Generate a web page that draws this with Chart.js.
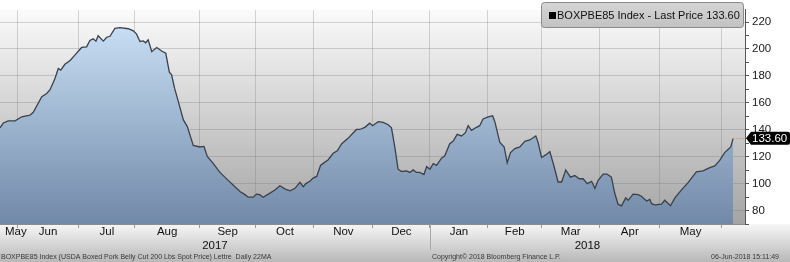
<!DOCTYPE html>
<html>
<head>
<meta charset="utf-8">
<script src="https://cdn.jsdelivr.net/npm/chart.js@4.4.1/dist/chart.umd.min.js"></script>
<style>
  html, body { margin: 0; padding: 0; background: #fff; }
  #wrap { width: 790px; height: 262px; }
</style>
</head>
<body>
<div id="wrap"><canvas id="chart" width="790" height="262"></canvas></div>
<script>
// x = trading-session index from the left edge of the window, y = price
const sessions = [
  0, 1.2, 3, 5.5, 7.9, 10.9, 12.1, 15.2, 17, 18.2, 20, 21.2, 22.1, 23.6, 25.5, 27.3,
  29.7, 31.5, 32.7, 33.9, 34.9, 35.7, 37.6, 38.8, 40, 41.8, 43.6, 46.7, 48.5, 49.7,
  50.9, 52.1, 53, 53.9, 55.2, 57, 58.8, 60.3, 61.6, 62.4, 63.5, 64.8, 66.7, 68.1,
  70.3, 72.7, 74.2, 75.4, 77.6, 80, 83, 84.8, 87.3, 89.1, 90.3, 92.1, 93.3, 94.5,
  95.7, 97.6, 100, 101.8, 103.6, 105.5, 107.3, 109.1, 110.3, 111.3, 112.7, 113.9,
  115.2, 116.6, 117.8, 119.4, 121.2, 122.7, 124.3, 126.7, 128.5, 129.7, 130.9, 132.7,
  134.5, 135.5, 137.6, 139.4, 141.2, 142.4, 143.6, 144.8, 146.1, 147.9, 149.1, 150.3,
  151.5, 152.7, 154.2, 155.2, 156.4, 157.6, 158.8, 160.6, 161.8, 163.6, 164.8, 166.3,
  167.9, 169.3, 170.3, 171.5, 173.3, 174.5, 175.7, 177.6, 179.2, 180, 181.8, 183.4,
  184.5, 185.7, 187.3, 189.1, 190.9, 192.7, 194.9, 195.7, 197, 198.5, 200, 201.5,
  203, 204.3, 205.8, 207.5, 209.1, 210.7, 212.1, 213.6, 215.2, 216.4, 217.6, 219.4,
  220.8, 222.4, 223.6, 224.8, 226.1, 227.6, 228.5, 230.3, 232.1, 233.3, 235.2, 236.4,
  237, 238.2, 240.6, 241.8, 243.9, 245.5, 247.9, 250.3, 253.3, 255.7, 258.2, 260,
  261.8, 263.6, 265.2, 265.8, 266.7
];
const prices = [
  141.4, 145, 146.6, 146.6, 149.6, 150.8, 153, 164.5, 166.9, 169.7, 178, 185.5, 184.3, 188.6, 191.4, 195.6,
  201.1, 201.6, 206.3, 207.5, 205.8, 209.8, 205.8, 208.7, 209.4, 215.3, 215.8, 215, 213.4, 211,
  205.6, 206, 204.6, 206.8, 198, 201.1, 198.5, 196.8, 182.7, 181, 170.9, 161.4, 147.3, 142.5,
  128.4, 127.2, 127.6, 120.1, 114.9, 108.3, 102.4, 98.9, 94.1, 91.8, 89.9, 89.9, 92.2, 91.8,
  89.9, 92.2, 95.3, 98.4, 96.1, 94.6, 96.5, 101, 97.7, 100, 101.7, 104.1,
  105.3, 113.5, 115.4, 117.7, 122.5, 124.4, 129.6, 133.8, 137.8, 140.2, 140.2, 141.8,
  144.9, 143, 146, 145.5, 143.7, 141.4, 127.2, 110.7, 109, 109.5, 108.3, 110.2,
  108.3, 108.3, 106.7, 112.6, 110.7, 114.9, 113.5, 118.9, 120.6, 129.6, 131.4, 136.6,
  135.4, 137.8, 143, 139.5, 141.8, 143, 148, 149.6, 150.3, 146, 130.8, 127.2,
  115.4, 123, 126, 127.2, 131.4, 132.4, 135.4, 130.8, 119.4, 121.3, 123.7, 113.1,
  101.2, 101.2, 110.2, 104.8, 106, 103.6, 103.6, 100, 101.7, 96.5, 102.4, 107.1,
  107.1, 104.8, 93, 84.7, 83.5, 89.4, 87.6, 92.2, 91.8, 90.6, 87.1, 88.3,
  85.1, 84.2, 84.7, 87.6, 83.5, 89.4, 95.3, 100.7, 108.7, 109.5, 111.9, 113.1,
  117.3, 123, 126, 127.2, 133.6
];

const monthNames = ['May', 'Jun', 'Jul', 'Aug', 'Sep', 'Oct', 'Nov', 'Dec', 'Jan', 'Feb', 'Mar', 'Apr', 'May'];
// session where the following month begins (Jun 2017 ... Jun 2018)
const monthStarts = [6.3, 28.7, 49.1, 72.5, 93.1, 114.2, 135.6, 156.4, 177.5, 197, 218.2, 240, 262.4];
const yearNames = ['2017', '2018'];
const yTickLabels = [80, 100, 120, 140, 160, 180, 200, 220];

const tickerName = 'BOXPBE85 Index';
const footerLeft = 'BOXPBE85 Index (USDA Boxed Pork Belly Cut 200 Lbs Spot Price) Lettre  Daily 22MA';
const footerMid = 'Copyright\u00A9 2018 Bloomberg Finance L.P.';
const footerRight = '06-Jun-2018 15:11:49';

const FONT = '"Liberation Sans", Arial, sans-serif';
const lastPrice = prices[prices.length - 1];

function roundRect(ctx, x, y, w, h, r) {
    ctx.beginPath();
    ctx.moveTo(x + r, y);
    ctx.lineTo(x + w - r, y);
    ctx.quadraticCurveTo(x + w, y, x + w, y + r);
    ctx.lineTo(x + w, y + h - r);
    ctx.quadraticCurveTo(x + w, y + h, x + w - r, y + h);
    ctx.lineTo(x + r, y + h);
    ctx.quadraticCurveTo(x, y + h, x, y + h - r);
    ctx.lineTo(x, y + r);
    ctx.quadraticCurveTo(x, y, x + r, y);
    ctx.closePath();
}

// Backgrounds: plot area gradient and the bottom band
const backdrop = {
    id: 'backdrop',
    beforeDraw(chart) {
        const { ctx, chartArea: a, width, height } = chart;
        ctx.save();
        ctx.fillStyle = '#ffffff';
        ctx.fillRect(0, 0, width, height);

        const band = ctx.createLinearGradient(0, a.bottom, 0, height);
        band.addColorStop(0, '#f7f7f7');
        band.addColorStop(1, '#b8b8b8');
        ctx.fillStyle = band;
        ctx.fillRect(0, a.bottom, width, height - a.bottom);

        const plot = ctx.createLinearGradient(0, a.top, 0, a.bottom);
        plot.addColorStop(0, '#fbfbfb');
        plot.addColorStop(1, '#a4a4a4');
        ctx.fillStyle = plot;
        ctx.fillRect(a.left, a.top, a.right - a.left, a.bottom - a.top);
        ctx.restore();
    }
};

// Month / year labels, footer, legend box and last price tag
const decorations = {
    id: 'decorations',
    afterDraw(chart) {
        const { ctx, chartArea: a, width, height } = chart;
        const xs = chart.scales.x;
        const ys = chart.scales.y;
        ctx.save();

        // month labels centred in each month
        ctx.font = '11.5px ' + FONT;
        ctx.fillStyle = '#111';
        ctx.textBaseline = 'middle';
        ctx.textAlign = 'center';
        monthNames.forEach((name, i) => {
            const start = i === 0 ? xs.min : monthStarts[i - 1];
            const end = monthStarts[i];
            let cx = (xs.getPixelForValue(start) + xs.getPixelForValue(end)) / 2;
            const w = ctx.measureText(name).width;
            if (cx - w / 2 < a.left + 5) cx = a.left + 5 + w / 2;
            ctx.fillText(name, cx, a.bottom + 8);
        });

        // year labels centred in the visible part of each year
        const newYear = monthStarts[7];
        const yx = xs.getPixelForValue(newYear);
        ctx.fillText(yearNames[0], (a.left + yx) / 2, a.bottom + 22);
        ctx.fillText(yearNames[1], (yx + a.right) / 2, a.bottom + 22);

        ctx.strokeStyle = '#a8a8a8';
        ctx.lineWidth = 1;
        ctx.beginPath();
        ctx.moveTo(Math.round(yx) + 0.5, a.bottom);
        ctx.lineTo(Math.round(yx) + 0.5, a.bottom + 26);
        ctx.stroke();

        // footer
        ctx.font = '7px ' + FONT;
        ctx.fillStyle = '#3a3a3a';
        ctx.textAlign = 'left';
        ctx.fillText(footerLeft, 1, height - 5);
        ctx.fillText(footerMid, 432, height - 5);
        ctx.textAlign = 'right';
        ctx.fillText(footerRight, width - 11, height - 5);

        // dotted line from the last point to the axis
        const lx = xs.getPixelForValue(sessions[sessions.length - 1]);
        const ly = ys.getPixelForValue(lastPrice);
        ctx.strokeStyle = '#c9aa70';
        ctx.setLineDash([2, 1]);
        ctx.beginPath();
        ctx.moveTo(lx, Math.round(ly) + 0.5);
        ctx.lineTo(a.right, Math.round(ly) + 0.5);
        ctx.stroke();
        ctx.setLineDash([]);

        // last price tag on the axis
        const tagTop = ly - 6.5, tagH = 13;
        ctx.fillStyle = '#000';
        ctx.beginPath();
        ctx.moveTo(a.right + 1, ly);
        ctx.lineTo(a.right + 6, tagTop);
        ctx.lineTo(width - 2, tagTop);
        ctx.quadraticCurveTo(width, tagTop, width, tagTop + 2);
        ctx.lineTo(width, tagTop + tagH - 2);
        ctx.quadraticCurveTo(width, tagTop + tagH, width - 2, tagTop + tagH);
        ctx.lineTo(a.right + 6, tagTop + tagH);
        ctx.closePath();
        ctx.fill();
        ctx.font = '11.5px ' + FONT;
        ctx.fillStyle = '#fff';
        ctx.textAlign = 'left';
        ctx.fillText(lastPrice.toFixed(2), a.right + 7, ly + 0.5);

        // legend box
        const bx = 541, by = 2, bw = 202, bh = 25;
        const lg = ctx.createLinearGradient(0, by, 0, by + bh);
        lg.addColorStop(0, '#d6d6d6');
        lg.addColorStop(1, '#c2c2c2');
        roundRect(ctx, bx + 0.5, by + 0.5, bw, bh, 3);
        ctx.fillStyle = lg;
        ctx.fill();
        ctx.strokeStyle = '#8a8a8a';
        ctx.stroke();
        ctx.fillStyle = '#000';
        ctx.fillRect(bx + 8, by + 10, 7, 7);
        ctx.font = '11px ' + FONT;
        ctx.fillStyle = '#111';
        ctx.textAlign = 'left';
        ctx.fillText(tickerName + ' - Last Price ' + lastPrice.toFixed(2), bx + 16, by + 13.5);

        ctx.restore();
    }
};

const ctx = document.getElementById('chart').getContext('2d');

new Chart(ctx, {
    type: 'line',
    data: {
        datasets: [{
            data: sessions.map((s, i) => ({ x: s, y: prices[i] })),
            borderColor: '#38424f',
            borderWidth: 1.3,
            pointRadius: 0,
            tension: 0,
            fill: 'start',
            backgroundColor: (c) => {
                const a = c.chart.chartArea;
                if (!a) return '#9bb5d3';
                const g = c.chart.ctx.createLinearGradient(0, a.top, 0, a.bottom);
                g.addColorStop(0, '#cfe5fa');
                g.addColorStop(1, '#7189a8');
                return g;
            }
        }]
    },
    options: {
        responsive: false,
        animation: false,
        layout: { padding: 0 },
        plugins: {
            legend: { display: false },
            tooltip: { enabled: false }
        },
        scales: {
            x: {
                type: 'linear',
                min: 0,
                max: 271,
                z: 1,
                afterBuildTicks: (s) => { s.ticks = monthStarts.map(v => ({ value: v })); },
                afterFit: (s) => { s.height = 38; },
                ticks: { display: false, autoSkip: false },
                grid: {
                    color: 'rgba(110,110,110,0.28)',
                    tickColor: '#9a9a9a',
                    tickLength: 4
                },
                border: { color: '#8c8c8c' }
            },
            y: {
                position: 'right',
                min: 70,
                max: 229,
                z: 1,
                afterBuildTicks: (s) => {
                    const t = [];
                    for (let v = 70; v <= 220; v += 10) t.push({ value: v });
                    s.ticks = t;
                },
                afterFit: (s) => { s.width = 45; },
                ticks: {
                    autoSkip: false,
                    callback: (v) => yTickLabels.includes(v) ? String(v) : '',
                    font: { family: FONT, size: 11.5 },
                    color: '#1a1a1a',
                    padding: 3
                },
                grid: {
                    color: (c) => yTickLabels.includes(c.tick.value) ? 'rgba(110,110,110,0.28)' : 'rgba(0,0,0,0)',
                    tickColor: '#555',
                    tickLength: 4
                },
                border: { color: '#555' }
            }
        }
    },
    plugins: [backdrop, decorations]
});
</script>
</body>
</html>
